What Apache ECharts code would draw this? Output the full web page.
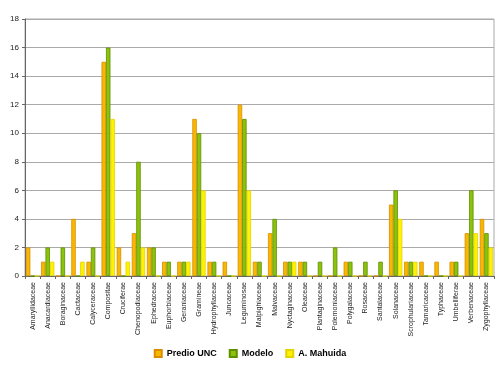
<!DOCTYPE html>
<html>
<head>
<meta charset="utf-8">
<script src="https://cdn.jsdelivr.net/npm/echarts@6/dist/echarts.min.js"></script>
<style>html,body{margin:0;padding:0;background:#fff}#c{width:500px;height:375px}</style>
</head>
<body>
<div id="c"></div>
<script>
const categories = ["Amaryllidaceae","Anacardiaceae","Boraginaceae","Cactaceae","Calyceraceae","Compositae","Cruciferae","Chenopodiaceae","Ephedraceae","Euphorbiaceae","Geraniaceae","Gramineae","Hydrophyllaceae","Juncaceae","Leguminosae","Malpighiaceae","Malvaceae","Nyctaginaceae","Oleaceae","Plantaginaceae","Polemoniaceae","Polygalaceae","Rosaceae","Santalaceae","Solanaceae","Scrophulariaceae","Tamaricaceae","Typhaceae","Umbelliferae","Verbenaceae","Zygophyllaceae"];
const predioUNC = [2,1,0,4,1,15,2,3,2,1,1,11,1,1,12,1,3,1,1,0,0,1,0,0,5,1,1,1,1,3,4];
const modelo    = [0,2,2,0,2,16,0,8,2,1,1,10,1,0,11,1,4,1,1,1,2,1,1,1,6,1,0,0,1,6,3];
const aMahuida  = [0,1,0,1,0,11,1,2,0,0,1,6,0,0,6,0,0,1,0,0,0,0,0,0,4,1,0,0,0,3,2];
const seriesNames = ["Predio UNC","Modelo","A. Mahuida"];
const yTicks = [0,2,4,6,8,10,12,14,16,18];

const colors = ['#F7B900','#8CC20A','#FFF200'];
const borders = ['#D98C00','#5E8F00','#E3D300'];
const chart = echarts.init(document.getElementById('c'));
const dataSets = [predioUNC, modelo, aMahuida];
chart.setOption({
  animation:false,
  grid:{left:25,right:6,top:19,bottom:99,show:true,borderColor:'#aaa',borderWidth:1},
  legend:{
    bottom:12,left:'center',itemWidth:7,itemHeight:7,itemGap:12,icon:'rect',
    textStyle:{fontFamily:'Liberation Sans',fontSize:9,fontWeight:'bold',color:'#000'},
    data:seriesNames
  },
  xAxis:{
    type:'category',data:categories,
    axisLine:{lineStyle:{color:'#666'}},
    axisTick:{show:true,length:3,lineStyle:{color:'#666'}},
    axisLabel:{rotate:90,interval:0,fontSize:7,fontFamily:'Liberation Sans',color:'#222',margin:6}
  },
  yAxis:{
    type:'value',min:0,max:18,interval:2,
    axisLine:{show:true,lineStyle:{color:'#666'}},
    axisTick:{show:true,length:3,lineStyle:{color:'#666'}},
    splitLine:{lineStyle:{color:'#aaa'}},
    axisLabel:{fontSize:8,fontFamily:'Liberation Sans',color:'#222',margin:6,
      formatter:v=>yTicks.includes(v)?String(v):''}
  },
  series: dataSets.map((d,i)=>({
    name:seriesNames[i],type:'bar',data:d,
    barGap:'0%',barCategoryGap:'12%',
    itemStyle:{color:colors[i],borderColor:borders[i],borderWidth:0.8}
  }))
});
</script>
</body>
</html>
